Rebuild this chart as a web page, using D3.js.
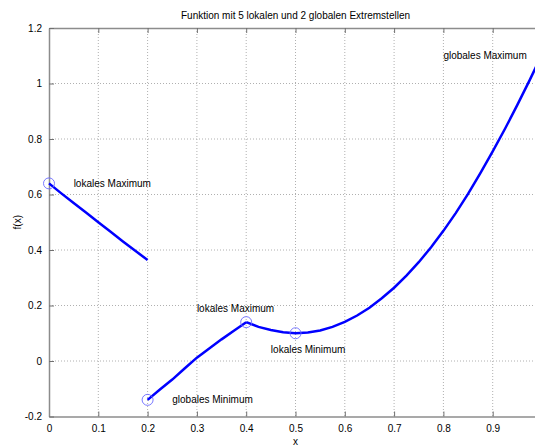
<!DOCTYPE html>
<html>
<head>
<meta charset="utf-8">
<script src="https://cdn.jsdelivr.net/npm/d3@7"></script>
<style>
  body { margin: 0; background: #fff; overflow: hidden; }
  text { font-family: "Liberation Sans", Arial, sans-serif; }
</style>
</head>
<body>
<svg id="canvas" width="535" height="446"></svg>
<script>
// values
var xTicks = [0, 0.1, 0.2, 0.3, 0.4, 0.5, 0.6, 0.7, 0.8, 0.9];
var yTicks = [-0.2, 0, 0.2, 0.4, 0.6, 0.8, 1, 1.2];

var seg1X = [0, 0.025, 0.05, 0.075, 0.1, 0.125, 0.15, 0.175, 0.2];
var seg1Y = [0.640, 0.604, 0.569, 0.535, 0.500, 0.466, 0.431, 0.397, 0.364];

var seg2X = [0.2, 0.225, 0.25, 0.275, 0.3, 0.325, 0.35, 0.375, 0.4];
var seg2Y = [-0.140, -0.103, -0.067, -0.027, 0.012, 0.045, 0.078, 0.109, 0.140];

var seg3X = [0.4, 0.425, 0.45, 0.475, 0.5, 0.525, 0.55, 0.575, 0.6, 0.625, 0.65, 0.675, 0.7,
             0.725, 0.75, 0.775, 0.8, 0.825, 0.85, 0.875, 0.9, 0.925, 0.95, 0.975, 1.0];
var seg3Y = [0.140, 0.123, 0.112, 0.104, 0.100, 0.103, 0.110, 0.123, 0.141, 0.164, 0.192, 0.226, 0.264,
             0.308, 0.356, 0.410, 0.469, 0.533, 0.602, 0.677, 0.755, 0.837, 0.923, 1.012, 1.105];

var extremaX = [0, 0.2, 0.4, 0.5, 1.0];
var extremaY = [0.64, -0.14, 0.14, 0.10, 1.105];

var labelText = ["lokales Maximum", "globales Minimum", "lokales Maximum", "lokales Minimum", "globales Maximum"];
var labelX = [0.05, 0.25, 0.3, 0.45, 0.8];
var labelY = [0.64, -0.14, 0.19, 0.04, 1.1];

var svg = d3.select("#canvas");
var pLeft = 49, pRight = 542, pTop = 28, pBottom = 416.5;

var x = d3.scaleLinear().domain([0, 1]).range([pLeft, pRight]);
var y = d3.scaleLinear().domain([-0.2, 1.2]).range([pBottom, pTop]);

// grid
var grid = svg.append("g");
grid.selectAll("line.vx")
  .data(xTicks.slice(1))
  .enter().append("line")
  .attr("x1", function(d) { return x(d); })
  .attr("x2", function(d) { return x(d); })
  .attr("y1", pTop).attr("y2", pBottom)
  .style("stroke", "#b0b0b0").style("stroke-width", 1)
  .style("stroke-dasharray", "1,2");
grid.selectAll("line.hy")
  .data(yTicks.slice(1, -1))
  .enter().append("line")
  .attr("x1", pLeft).attr("x2", pRight)
  .attr("y1", function(d) { return y(d); })
  .attr("y2", function(d) { return y(d); })
  .style("stroke", "#b0b0b0").style("stroke-width", 1)
  .style("stroke-dasharray", "1,2");

// axes (ticks point inward)
var fmt = function(d) { return String(+d.toFixed(1)); };

var xAxis = svg.append("g")
  .attr("transform", "translate(0," + pBottom + ")")
  .call(d3.axisBottom(x).tickValues(xTicks).tickSizeInner(-5).tickSizeOuter(0).tickPadding(8).tickFormat(fmt));
var xTop = svg.append("g")
  .attr("transform", "translate(0," + pTop + ")")
  .call(d3.axisTop(x).tickValues(xTicks).tickSizeInner(-5).tickSizeOuter(0).tickFormat(""));
var yAxis = svg.append("g")
  .attr("transform", "translate(" + pLeft + ",0)")
  .call(d3.axisLeft(y).tickValues(yTicks).tickSizeInner(-5).tickSizeOuter(0).tickPadding(7).tickFormat(fmt));

[xAxis, xTop, yAxis].forEach(function(g) {
  g.select(".domain").style("stroke", "#8c8c8c").style("stroke-width", 1.5);
  g.selectAll(".tick line").style("stroke", "#707070");
  g.selectAll("text").style("font-size", "10px").style("fill", "#000");
});

// curve pieces
var line = d3.line()
  .x(function(d) { return x(d[0]); })
  .y(function(d) { return y(d[1]); });

[[seg1X, seg1Y], [seg2X, seg2Y], [seg3X, seg3Y]].forEach(function(s) {
  svg.append("path")
    .datum(d3.zip(s[0], s[1]))
    .attr("d", line)
    .style("fill", "none")
    .style("stroke", "#0000ff")
    .style("stroke-width", 2.5);
});

// extrema markers
svg.selectAll("circle.ext")
  .data(d3.zip(extremaX, extremaY))
  .enter().append("circle")
  .attr("cx", function(d) { return x(d[0]); })
  .attr("cy", function(d) { return y(d[1]); })
  .attr("r", 5.5)
  .style("fill", "none")
  .style("stroke", "#6a6aff")
  .style("stroke-width", 0.9);

// annotations
svg.selectAll("text.lab")
  .data(labelText)
  .enter().append("text")
  .attr("x", function(d, i) { return x(labelX[i]); })
  .attr("y", function(d, i) { return y(labelY[i]); })
  .attr("dy", "0.35em")
  .style("font-size", "10px")
  .text(function(d) { return d; });

// title and axis labels
svg.append("text")
  .attr("x", (pLeft + pRight) / 2).attr("y", 19)
  .attr("text-anchor", "middle")
  .style("font-size", "10px")
  .text("Funktion mit 5 lokalen und 2 globalen Extremstellen");

svg.append("text")
  .attr("x", (pLeft + pRight) / 2).attr("y", 445)
  .attr("text-anchor", "middle")
  .style("font-size", "10px")
  .text("x");

svg.append("text")
  .attr("transform", "translate(21," + ((pTop + pBottom) / 2) + ") rotate(-90)")
  .attr("text-anchor", "middle")
  .style("font-size", "10px")
  .text("f(x)");
</script>
</body>
</html>
